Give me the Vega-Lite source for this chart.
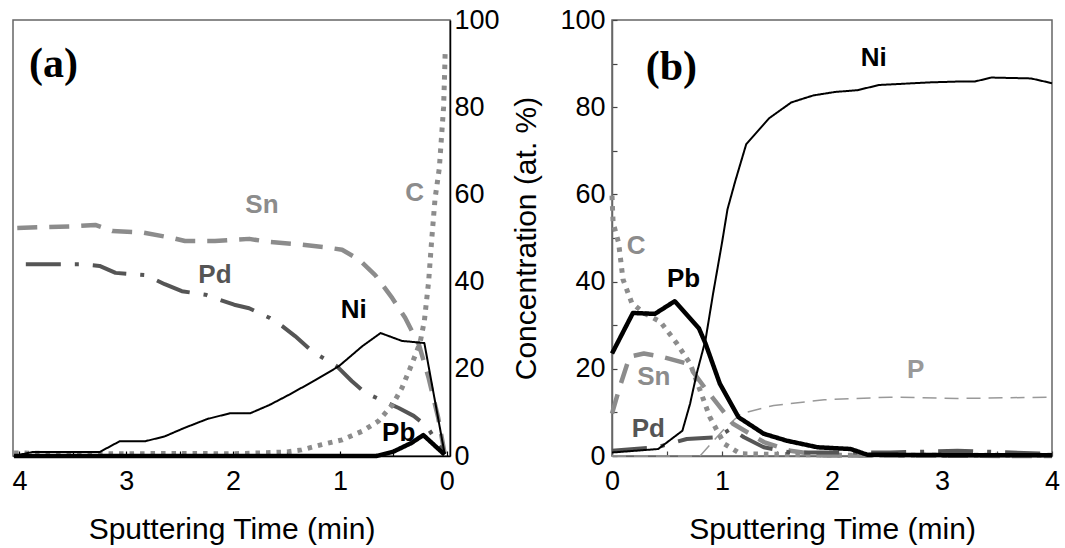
{
  "$schema": "https://vega.github.io/schema/vega-lite/v6.json",
  "padding": {"left": 10, "top": 5, "right": 5, "bottom": 5},
  "background": "white",
  "spacing": 11,
  "config": {
    "font": "Liberation Sans",
    "view": {"stroke": "#666666", "strokeWidth": 1.5},
    "axis": {"grid": false, "labelFont": "Liberation Sans", "titleFont": "Liberation Sans", "labelColor": "#000", "titleColor": "#000", "labelFontSize": 27, "titleFontSize": 30, "titleFontWeight": "normal", "domainWidth": 1.5, "tickWidth": 1.2, "labelFlush": false, "labelOverlap": false}
  },
  "datasets": {
    "a": [
      {"elem": "Sn", "t": 4.02, "c": 52.3}, {"elem": "Sn", "t": 3.48, "c": 52.7}, {"elem": "Sn", "t": 3.29, "c": 53.0}, {"elem": "Sn", "t": 3.13, "c": 51.6}, {"elem": "Sn", "t": 2.85, "c": 51.3}, {"elem": "Sn", "t": 2.57, "c": 50.0}, {"elem": "Sn", "t": 2.45, "c": 49.3}, {"elem": "Sn", "t": 2.17, "c": 49.3}, {"elem": "Sn", "t": 1.85, "c": 49.8}, {"elem": "Sn", "t": 1.66, "c": 49.1}, {"elem": "Sn", "t": 1.36, "c": 48.5}, {"elem": "Sn", "t": 1.14, "c": 47.9}, {"elem": "Sn", "t": 0.98, "c": 47.3}, {"elem": "Sn", "t": 0.82, "c": 45.0}, {"elem": "Sn", "t": 0.67, "c": 41.5}, {"elem": "Sn", "t": 0.51, "c": 36.2}, {"elem": "Sn", "t": 0.39, "c": 31.7}, {"elem": "Sn", "t": 0.26, "c": 25.5}, {"elem": "Sn", "t": 0.17, "c": 17.9}, {"elem": "Sn", "t": 0.08, "c": 8.7}, {"elem": "Sn", "t": 0.02, "c": 0.5},
      {"elem": "Pd", "t": 3.94, "c": 44.0}, {"elem": "Pd", "t": 3.43, "c": 44.0}, {"elem": "Pd", "t": 3.25, "c": 43.6}, {"elem": "Pd", "t": 3.10, "c": 42.0}, {"elem": "Pd", "t": 2.82, "c": 41.5}, {"elem": "Pd", "t": 2.64, "c": 39.4}, {"elem": "Pd", "t": 2.48, "c": 37.8}, {"elem": "Pd", "t": 2.26, "c": 37.0}, {"elem": "Pd", "t": 2.17, "c": 36.2}, {"elem": "Pd", "t": 1.99, "c": 34.7}, {"elem": "Pd", "t": 1.85, "c": 33.9}, {"elem": "Pd", "t": 1.66, "c": 31.7}, {"elem": "Pd", "t": 1.54, "c": 29.8}, {"elem": "Pd", "t": 1.42, "c": 27.5}, {"elem": "Pd", "t": 1.26, "c": 24.0}, {"elem": "Pd", "t": 1.03, "c": 20.6}, {"elem": "Pd", "t": 0.89, "c": 17.2}, {"elem": "Pd", "t": 0.77, "c": 14.6}, {"elem": "Pd", "t": 0.45, "c": 11.0}, {"elem": "Pd", "t": 0.31, "c": 9.2}, {"elem": "Pd", "t": 0.19, "c": 6.9}, {"elem": "Pd", "t": 0.02, "c": 0.5},
      {"elem": "C", "t": 4.05, "c": 0.7}, {"elem": "C", "t": 3.5, "c": 0.5}, {"elem": "C", "t": 3.0, "c": 0.5}, {"elem": "C", "t": 2.5, "c": 0.6}, {"elem": "C", "t": 2.0, "c": 0.5}, {"elem": "C", "t": 1.51, "c": 0.9}, {"elem": "C", "t": 1.36, "c": 1.4}, {"elem": "C", "t": 1.17, "c": 2.6}, {"elem": "C", "t": 0.98, "c": 3.7}, {"elem": "C", "t": 0.79, "c": 5.7}, {"elem": "C", "t": 0.64, "c": 8.0}, {"elem": "C", "t": 0.51, "c": 11.7}, {"elem": "C", "t": 0.42, "c": 15.6}, {"elem": "C", "t": 0.33, "c": 20.9}, {"elem": "C", "t": 0.25, "c": 26.0}, {"elem": "C", "t": 0.21, "c": 31.0}, {"elem": "C", "t": 0.17, "c": 40.0}, {"elem": "C", "t": 0.14, "c": 50.0}, {"elem": "C", "t": 0.11, "c": 59.0}, {"elem": "C", "t": 0.07, "c": 66.0}, {"elem": "C", "t": 0.05, "c": 73.0}, {"elem": "C", "t": 0.03, "c": 80.0}, {"elem": "C", "t": 0.02, "c": 88.0}, {"elem": "C", "t": 0.015, "c": 93.0},
      {"elem": "Ni", "t": 4.05, "c": 0.0}, {"elem": "Ni", "t": 3.88, "c": 0.9}, {"elem": "Ni", "t": 3.25, "c": 0.9}, {"elem": "Ni", "t": 3.06, "c": 3.4}, {"elem": "Ni", "t": 2.82, "c": 3.4}, {"elem": "Ni", "t": 2.64, "c": 4.5}, {"elem": "Ni", "t": 2.46, "c": 6.4}, {"elem": "Ni", "t": 2.24, "c": 8.5}, {"elem": "Ni", "t": 2.03, "c": 9.8}, {"elem": "Ni", "t": 1.84, "c": 9.8}, {"elem": "Ni", "t": 1.66, "c": 11.7}, {"elem": "Ni", "t": 1.48, "c": 14.0}, {"elem": "Ni", "t": 1.23, "c": 17.4}, {"elem": "Ni", "t": 1.01, "c": 20.6}, {"elem": "Ni", "t": 0.79, "c": 25.2}, {"elem": "Ni", "t": 0.62, "c": 28.2}, {"elem": "Ni", "t": 0.42, "c": 26.4}, {"elem": "Ni", "t": 0.21, "c": 25.9}, {"elem": "Ni", "t": 0.02, "c": 0.5},
      {"elem": "Pb", "t": 4.05, "c": 0.0}, {"elem": "Pb", "t": 0.66, "c": 0.0}, {"elem": "Pb", "t": 0.5, "c": 1.0}, {"elem": "Pb", "t": 0.33, "c": 3.0}, {"elem": "Pb", "t": 0.22, "c": 4.8}, {"elem": "Pb", "t": 0.02, "c": 0.3}
    ],
    "b": [
      {"elem": "P", "t": 0, "c": 0}, {"elem": "P", "t": 0.8, "c": 0}, {"elem": "P", "t": 1.02, "c": 6.2}, {"elem": "P", "t": 1.17, "c": 9.7}, {"elem": "P", "t": 1.47, "c": 11.6}, {"elem": "P", "t": 1.93, "c": 12.9}, {"elem": "P", "t": 2.53, "c": 13.5}, {"elem": "P", "t": 3.14, "c": 13.2}, {"elem": "P", "t": 4.0, "c": 13.5},
      {"elem": "Sn", "t": 0, "c": 9.7}, {"elem": "Sn", "t": 0.07, "c": 15.8}, {"elem": "Sn", "t": 0.16, "c": 22.8}, {"elem": "Sn", "t": 0.29, "c": 23.5}, {"elem": "Sn", "t": 0.45, "c": 22.8}, {"elem": "Sn", "t": 0.68, "c": 21.2}, {"elem": "Sn", "t": 0.86, "c": 15.1}, {"elem": "Sn", "t": 1.1, "c": 7.4}, {"elem": "Sn", "t": 1.38, "c": 3.2}, {"elem": "Sn", "t": 1.62, "c": 1.2}, {"elem": "Sn", "t": 1.93, "c": 0.1}, {"elem": "Sn", "t": 4.0, "c": 0},
      {"elem": "C", "t": 0, "c": 59.7}, {"elem": "C", "t": 0.01, "c": 53.5}, {"elem": "C", "t": 0.06, "c": 48.9}, {"elem": "C", "t": 0.1, "c": 40.5}, {"elem": "C", "t": 0.18, "c": 35.1}, {"elem": "C", "t": 0.29, "c": 32.8}, {"elem": "C", "t": 0.44, "c": 30.8}, {"elem": "C", "t": 0.59, "c": 25.8}, {"elem": "C", "t": 0.71, "c": 21.2}, {"elem": "C", "t": 0.8, "c": 15.1}, {"elem": "C", "t": 0.89, "c": 8.9}, {"elem": "C", "t": 1.02, "c": 2.8}, {"elem": "C", "t": 1.17, "c": 0.5}, {"elem": "C", "t": 2.0, "c": 0.2}, {"elem": "C", "t": 4.0, "c": 0.2},
      {"elem": "Pd", "t": 0, "c": 1.2}, {"elem": "Pd", "t": 0.41, "c": 2.0}, {"elem": "Pd", "t": 0.68, "c": 3.9}, {"elem": "Pd", "t": 0.95, "c": 4.3}, {"elem": "Pd", "t": 1.08, "c": 6.2}, {"elem": "Pd", "t": 1.2, "c": 4.3}, {"elem": "Pd", "t": 1.38, "c": 2.0}, {"elem": "Pd", "t": 1.62, "c": 0.8}, {"elem": "Pd", "t": 2.53, "c": 0.8}, {"elem": "Pd", "t": 3.14, "c": 1.2}, {"elem": "Pd", "t": 4.0, "c": 0.5},
      {"elem": "Ni", "t": 0, "c": 0.8}, {"elem": "Ni", "t": 0.42, "c": 1.6}, {"elem": "Ni", "t": 0.64, "c": 5.8}, {"elem": "Ni", "t": 0.71, "c": 12.0}, {"elem": "Ni", "t": 0.77, "c": 18.9}, {"elem": "Ni", "t": 0.85, "c": 26.6}, {"elem": "Ni", "t": 0.92, "c": 37.4}, {"elem": "Ni", "t": 1.0, "c": 48.9}, {"elem": "Ni", "t": 1.05, "c": 56.6}, {"elem": "Ni", "t": 1.12, "c": 63.0}, {"elem": "Ni", "t": 1.22, "c": 71.5}, {"elem": "Ni", "t": 1.43, "c": 77.5}, {"elem": "Ni", "t": 1.63, "c": 81.1}, {"elem": "Ni", "t": 1.83, "c": 82.7}, {"elem": "Ni", "t": 2.03, "c": 83.5}, {"elem": "Ni", "t": 2.23, "c": 83.9}, {"elem": "Ni", "t": 2.43, "c": 85.1}, {"elem": "Ni", "t": 2.9, "c": 85.7}, {"elem": "Ni", "t": 3.17, "c": 85.9}, {"elem": "Ni", "t": 3.3, "c": 85.9}, {"elem": "Ni", "t": 3.45, "c": 86.8}, {"elem": "Ni", "t": 3.81, "c": 86.6}, {"elem": "Ni", "t": 4.0, "c": 85.5},
      {"elem": "Pb", "t": 0, "c": 23.5}, {"elem": "Pb", "t": 0.19, "c": 32.8}, {"elem": "Pb", "t": 0.39, "c": 32.6}, {"elem": "Pb", "t": 0.57, "c": 35.5}, {"elem": "Pb", "t": 0.79, "c": 29.3}, {"elem": "Pb", "t": 0.85, "c": 25.8}, {"elem": "Pb", "t": 0.98, "c": 16.6}, {"elem": "Pb", "t": 1.15, "c": 8.9}, {"elem": "Pb", "t": 1.38, "c": 5.1}, {"elem": "Pb", "t": 1.59, "c": 3.5}, {"elem": "Pb", "t": 1.87, "c": 2.0}, {"elem": "Pb", "t": 2.17, "c": 1.6}, {"elem": "Pb", "t": 2.32, "c": 0.3}, {"elem": "Pb", "t": 3.0, "c": 0.2}, {"elem": "Pb", "t": 4.0, "c": 0.2}
    ],
    "la": [
      {"elem": "Sn", "t": 1.73, "c": 57.6}, {"elem": "Pd", "t": 2.17, "c": 41.5}, {"elem": "Ni", "t": 0.87, "c": 33.5}, {"elem": "Pb", "t": 0.45, "c": 5.3}, {"elem": "C", "t": 0.3, "c": 60.3}
    ],
    "lb": [
      {"elem": "Ni", "t": 2.38, "c": 91.2}, {"elem": "C", "t": 0.22, "c": 48.2}, {"elem": "Pb", "t": 0.65, "c": 40.5}, {"elem": "Sn", "t": 0.38, "c": 18.2}, {"elem": "Pd", "t": 0.33, "c": 6.2}, {"elem": "P", "t": 2.76, "c": 19.7}
    ]
  },
  "hconcat": [
    {
      "width": 437,
      "height": 436,
      "layer": [
        {
          "data": {"name": "a"},
          "mark": {"type": "line", "strokeCap": "butt", "strokeJoin": "round"},
          "encoding": {
            "x": {"field": "t", "type": "quantitative", "scale": {"domain": [4.06, -0.03], "nice": false, "zero": false},
              "axis": {"values": [0, 0.5, 1, 1.5, 2, 2.5, 3, 3.5, 4], "labelExpr": "datum.value % 1 === 0 ? format(datum.value, 'd') : ''", "tickSize": -5, "labelPadding": 17, "domainColor": "#000", "tickColor": "#000", "title": "Sputtering Time (min)", "titlePadding": 20}},
            "y": {"field": "c", "type": "quantitative", "scale": {"domain": [0, 100], "nice": false},
              "axis": {"orient": "right", "values": [0, 20, 40, 60, 80, 100], "ticks": false, "labelPadding": 4, "domainColor": "#000", "title": null}},
            "color": {"field": "elem", "type": "nominal", "scale": {"domain": ["P", "C", "Sn", "Pd", "Ni", "Pb"], "range": ["#999999", "#8c8c8c", "#8c8c8c", "#555555", "#000000", "#000000"]}, "legend": null},
            "strokeDash": {"field": "elem", "type": "nominal", "scale": {"type": "ordinal", "domain": ["P", "C", "Sn", "Pd", "Ni", "Pb"], "range": [[14, 8], [4.5, 6], [20, 12], [35, 14, 4, 14], [1, 0], [1, 0]]}, "legend": null},
            "strokeWidth": {"field": "elem", "type": "nominal", "scale": {"type": "ordinal", "domain": ["P", "C", "Sn", "Pd", "Ni", "Pb"], "range": [1.5, 5, 4.5, 4, 2, 4.5]}, "legend": null}
          }
        },
        {
          "data": {"name": "la"},
          "mark": {"type": "text", "fontWeight": "bold", "fontSize": 26, "font": "Liberation Sans"},
          "encoding": {
            "x": {"field": "t", "type": "quantitative"},
            "y": {"field": "c", "type": "quantitative"},
            "text": {"field": "elem"},
            "color": {"field": "elem", "type": "nominal", "legend": null}
          }
        },
        {
          "data": {"values": [{"t": 3.68, "c": 89.9, "txt": "(a)"}]},
          "mark": {"type": "text", "font": "Liberation Serif", "fontWeight": "bold", "fontSize": 42, "color": "#000"},
          "encoding": {
            "x": {"field": "t", "type": "quantitative"},
            "y": {"field": "c", "type": "quantitative"},
            "text": {"field": "txt"}
          }
        }
      ]
    },
    {
      "width": 440,
      "height": 436,
      "layer": [
        {
          "data": {"name": "b"},
          "mark": {"type": "line", "strokeCap": "butt", "strokeJoin": "round"},
          "encoding": {
            "x": {"field": "t", "type": "quantitative", "scale": {"domain": [0, 4], "nice": false, "zero": false},
              "axis": {"values": [0, 0.5, 1, 1.5, 2, 2.5, 3, 3.5, 4], "labelExpr": "datum.value % 1 === 0 ? format(datum.value, 'd') : ''", "tickSize": -5, "labelPadding": 17, "domainColor": "#666", "tickColor": "#444", "title": "Sputtering Time (min)", "titlePadding": 20}},
            "y": {"field": "c", "type": "quantitative", "scale": {"domain": [0, 100], "nice": false},
              "axis": {"orient": "left", "values": [0, 10, 20, 30, 40, 50, 60, 70, 80, 90, 100], "labelExpr": "datum.value % 20 === 0 ? format(datum.value, 'd') : ''", "tickSize": -5, "labelPadding": 12, "domainColor": "#666", "tickColor": "#444", "title": "Concentration (at. %)", "titlePadding": 18}},
            "color": {"field": "elem", "type": "nominal", "scale": {"domain": ["P", "C", "Sn", "Pd", "Ni", "Pb"], "range": ["#999999", "#8c8c8c", "#8c8c8c", "#555555", "#000000", "#000000"]}, "legend": null},
            "strokeDash": {"field": "elem", "type": "nominal", "scale": {"type": "ordinal", "domain": ["P", "C", "Sn", "Pd", "Ni", "Pb"], "range": [[14, 8], [4.5, 6], [20, 12], [35, 14, 4, 14], [1, 0], [1, 0]]}, "legend": null},
            "strokeWidth": {"field": "elem", "type": "nominal", "scale": {"type": "ordinal", "domain": ["P", "C", "Sn", "Pd", "Ni", "Pb"], "range": [1.5, 5, 4.5, 4, 2.5, 4.5]}, "legend": null}
          }
        },
        {
          "data": {"name": "lb"},
          "mark": {"type": "text", "fontWeight": "bold", "fontSize": 26, "font": "Liberation Sans"},
          "encoding": {
            "x": {"field": "t", "type": "quantitative"},
            "y": {"field": "c", "type": "quantitative"},
            "text": {"field": "elem"},
            "color": {"field": "elem", "type": "nominal", "legend": null}
          }
        },
        {
          "data": {"values": [{"t": 0.54, "c": 89.2, "txt": "(b)"}]},
          "mark": {"type": "text", "font": "Liberation Serif", "fontWeight": "bold", "fontSize": 42, "color": "#000"},
          "encoding": {
            "x": {"field": "t", "type": "quantitative"},
            "y": {"field": "c", "type": "quantitative"},
            "text": {"field": "txt"}
          }
        }
      ]
    }
  ]
}
